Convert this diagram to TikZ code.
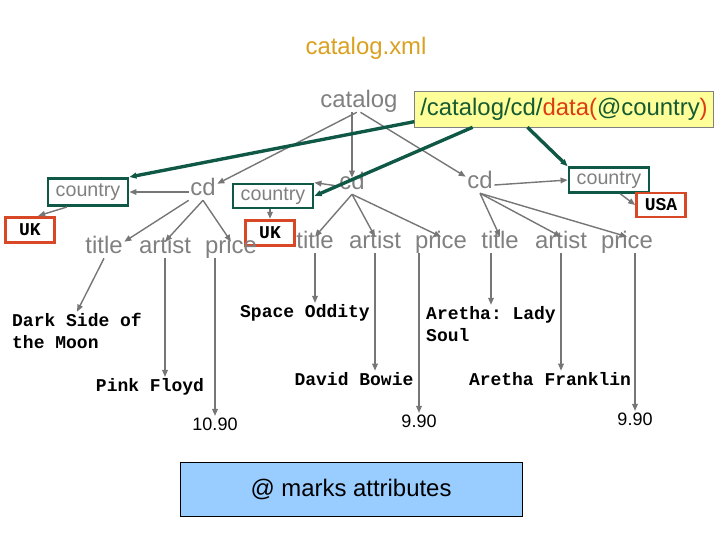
\documentclass[tikz,border=0pt]{standalone}
\usepackage{fontspec}
\setmainfont{Liberation Sans}
\setmonofont{Liberation Mono}
\usetikzlibrary{arrows.meta}

\definecolor{txtgray}{RGB}{128,128,128}
\definecolor{arrgray}{RGB}{118,118,118}
\definecolor{filegold}{RGB}{218,160,32}
\definecolor{xpyellow}{RGB}{255,255,153}
\definecolor{xpgreen}{RGB}{20,90,50}
\definecolor{xpred}{RGB}{220,60,20}
\definecolor{boxgreen}{RGB}{16,88,70}
\definecolor{boxred}{RGB}{216,72,38}
\definecolor{noteblue}{RGB}{153,204,255}

\begin{document}
\begin{tikzpicture}[x=0.025cm,y=-0.025cm,>={Triangle[length=5pt,width=4pt]},
    lbl/.style={text=txtgray,font=\fontsize{17}{20}\selectfont,inner sep=1pt,
        text height=0.74em,text depth=0.2em},
    val/.style={font=\ttfamily\bfseries\fontsize{12.8}{15.5}\selectfont,align=left,inner sep=1pt},
    num/.style={font=\fontsize{12.8}{15}\selectfont,inner sep=1pt},
    elem/.style={draw=boxgreen,line width=2pt,text=txtgray,font=\fontsize{14}{16}\selectfont,
        inner sep=0pt,minimum width=2cm},
    attr/.style={draw=boxred,line width=2pt,fill=white,font=\ttfamily\bfseries\fontsize{12.8}{15}\selectfont,
        inner sep=0pt,minimum width=1.22cm,minimum height=0.64cm},
    tree/.style={->,draw=arrgray,line width=1pt},
    hit/.style={->,draw=boxgreen,line width=2.4pt}]

        \useasboundingbox (0,0) rectangle (720,540);

        %%% TITLE AND QUERY

        \node[text=filegold,font=\fontsize{17}{20}\selectfont] (file) at (366,48) {catalog.xml};
        \node[lbl] (catalog) at (359,104) {catalog};
        \node[draw=txtgray,fill=xpyellow,font=\fontsize{17}{20}\selectfont,inner sep=0pt,
            minimum width=7.47cm,minimum height=0.9cm] (xpath) at (564,109)
            {\textcolor{xpgreen}{/catalog/cd/}\textcolor{xpred}{data(}\textcolor{xpgreen}{@country}\textcolor{xpred}{)}};

        %%% CD ELEMENTS

        \node[lbl] (cd1) at (203,192) {cd};
        \node[lbl] (cd2) at (352,186) {cd};
        \node[lbl] (cd3) at (480,185) {cd};

        % country elements and their values
        \node[elem,minimum height=0.68cm] (country1) at (88,192) {country};
        \node[elem,minimum height=0.6cm] (country2) at (273,196) {country};
        \node[elem,minimum height=0.62cm] (country3) at (609,180) {country};
        \node[attr] (uk1) at (30,230) {UK};
        \node[attr] (uk2) at (270,233) {UK};
        \node[attr,minimum height=0.6cm] (usa) at (661,205) {USA};

        % children rows
        \node[lbl] (title1) at (104,250) {title};
        \node[lbl] (artist1) at (165,250) {artist};
        \node[lbl] (price1) at (231,250) {price};
        \node[lbl] (title2) at (315,245) {title};
        \node[lbl] (artist2) at (375,245) {artist};
        \node[lbl] (price2) at (441,245) {price};
        \node[lbl] (title3) at (500,245) {title};
        \node[lbl] (artist3) at (561,245) {artist};
        \node[lbl] (price3) at (627,245) {price};

        %%% LEAF VALUES

        \node[val] (dark) at (77,331) {Dark Side of\\the Moon};
        \node[val] (pink) at (150,387) {Pink Floyd};
        \node[num] (num1) at (215,424) {10.90};
        \node[val] (space) at (305,313) {Space Oddity};
        \node[val] (bowie) at (354,379) {David Bowie};
        \node[num] (num2) at (419,421) {9.90};
        \node[val] (lady) at (491,324) {Aretha: Lady\\Soul};
        \node[val] (franklin) at (550,379) {Aretha Franklin};
        \node[num] (num3) at (635,419) {9.90};

        % Note
        \node[draw=black,fill=noteblue,font=\fontsize{17}{20}\selectfont,
            minimum width=8.55cm,minimum height=1.35cm] (note) at (351,489) {@ marks attributes};

        %%% TREE EDGES

        \draw[tree] (catalog.-105) -- (cd1.north east);
        \draw[tree] (catalog.south -| cd2) -- (cd2.north);
        \draw[tree] (catalog.-80) -- (cd3.north west);

        % cd to country
        \draw[tree] (cd1.west) -- (country1.east);
        \draw[tree] (cd2.west) -- (country2.north east);
        \draw[tree] (cd3.east) -- (country3.west);
        \draw[tree] ([xshift=-15pt]country1.south) -- (uk1.60);
        \draw[tree] (country2.south -| uk2) -- (uk2.north);
        \draw[tree] ([xshift=8pt]country3.south) -- (usa.west);

        % cd to children
        \draw[tree] (cd1.south west) -- (title1.north east);
        \draw[tree] (cd1.south) -- (artist1.north);
        \draw[tree] (cd1.south) -- (price1.north);
        \draw[tree] (cd2.south) -- (title2.north);
        \draw[tree] (cd2.south) -- (artist2.north);
        \draw[tree] (cd2.south) -- (price2.north);
        \draw[tree] (cd3.south) -- (title3.north);
        \draw[tree] (cd3.south) -- (artist3.north);
        \draw[tree] (cd3.south) -- (price3.north);

        % children to values
        \draw[tree] (title1.south) -- (dark.north);
        \draw[tree] (artist1.south) -- (artist1.south |- pink.north);
        \draw[tree] (price1.south -| num1) -- (num1.north);
        \draw[tree] (title2.south) -- (title2.south |- space.north);
        \draw[tree] (artist2.south) -- (artist2.south |- bowie.north);
        \draw[tree] (price2.south -| num2) -- (num2.north);
        \draw[tree] (title3.south -| lady) -- (lady.north);
        \draw[tree] (artist3.south) -- (artist3.south |- franklin.north);
        \draw[tree] (price3.south -| num3) -- (num3.north);

        %%% QUERY HITS

        \draw[hit] ([yshift=-9pt]xpath.west) -- (country1.north east);
        \draw[hit] ([xshift=-65pt]xpath.south) -- (country2.east);
        \draw[hit] ([xshift=-26pt]xpath.south) -- (country3.north west);

\end{tikzpicture}
\end{document}
